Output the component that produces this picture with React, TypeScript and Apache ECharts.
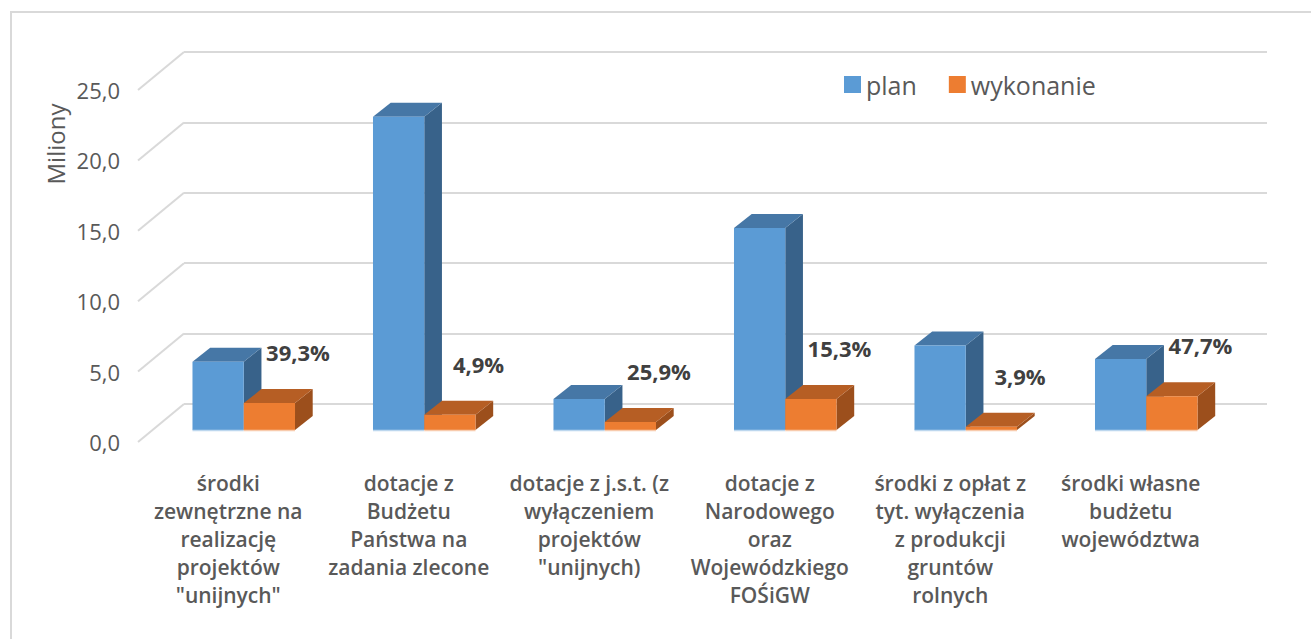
import React, { useEffect, useRef } from "react";
import * as echarts from "echarts";

const categories = [
  "środki\nzewnętrzne na\nrealizację\nprojektów\n\"unijnych\"",
  "dotacje z\nBudżetu\nPaństwa na\nzadania zlecone",
  "dotacje z j.s.t. (z\nwyłączeniem\nprojektów\n\"unijnych)",
  "dotacje z\nNarodowego\noraz\nWojewódzkiego\nFOŚiGW",
  "środki z opłat z\ntyt. wyłączenia\nz produkcji\ngruntów\nrolnych",
  "środki własne\nbudżetu\nwojewództwa",
];
const planValues = [4.85, 22.25, 2.2, 14.35, 6.0, 5.04];
const wykonanieValues = [1.91, 1.09, 0.57, 2.2, 0.23, 2.4];
const percentLabels = ["39,3%", "4,9%", "25,9%", "15,3%", "3,9%", "47,7%"];
const yTicks = [0, 5, 10, 15, 20, 25];
const seriesNames = ["plan", "wykonanie"];

// layout / style constants
const FONT = "Open Sans";
const PAIR_SHIFT_X = -30.5;
const FRONT_SHIFT_Y = 26;
const DEPTH_X = 17.7;
const DEPTH_Y = -14;
const BAR_RATIO = 0.284;
const WALL_DX = -46;
const WALL_DY = 38;

const COLORS = {
  plan: { front: "#5B9BD5", top: "#4677A6", side: "#38628A", edge: "#BDD7EE" },
  wyk: { front: "#ED7D31", top: "#B65E24", side: "#9C4F1C", edge: "#F8CBAD" },
};

function makeBarRenderer(kind: "plan" | "wyk") {
  const col = COLORS[kind];
  return (params: any, api: any) => {
    const idx = api.value(0);
    const v = api.value(1);
    const base = api.coord([idx, 0]);
    const topP = api.coord([idx, v]);
    const band = api.size([1, 0])[0];
    const barW = band * BAR_RATIO;
    const center = base[0] + PAIR_SHIFT_X;
    const L = kind === "plan" ? center - barW : center;
    const yb = base[1] + FRONT_SHIFT_Y;
    const yt = topP[1] + FRONT_SHIFT_Y;
    const R = L + barW;
    const children: any[] = [
      {
        type: "polygon",
        shape: {
          points: [
            [R, yt],
            [R + DEPTH_X, yt + DEPTH_Y],
            [R + DEPTH_X, yb + DEPTH_Y],
            [R, yb],
          ],
        },
        style: { fill: col.side },
      },
      {
        type: "polygon",
        shape: {
          points: [
            [L, yt],
            [R, yt],
            [R + DEPTH_X, yt + DEPTH_Y],
            [L + DEPTH_X, yt + DEPTH_Y],
          ],
        },
        style: { fill: col.top },
      },
      {
        type: "rect",
        shape: { x: L, y: yt, width: barW, height: yb - yt },
        style: { fill: col.front },
      },
      {
        type: "line",
        shape: { x1: L, y1: yb + 0.5, x2: R, y2: yb + 0.5 },
        style: { stroke: col.edge, lineWidth: 1.5 },
      },
    ];
    if (kind === "wyk") {
      children.push({
        type: "text",
        style: {
          text: percentLabels[params.dataIndex],
          x: R + 3,
          y: yt - 51,
          align: "center",
          verticalAlign: "middle",
          fontFamily: FONT,
          fontSize: 22,
          fontWeight: "bold",
          fill: "#404040",
        },
      });
    }
    return { type: "group", children };
  };
}

export default function App() {
  const ref = useRef<HTMLDivElement>(null);
  useEffect(() => {
    document.body.style.margin = "0";
    if (!ref.current) return;
    const chart = echarts.init(ref.current, null, { renderer: "svg" });
    const fmt = (v: number) => v.toFixed(1).replace(".", ",");
    chart.setOption({
      animation: false,
      backgroundColor: "#ffffff",
      graphic: [
        {
          type: "rect",
          shape: { x: 11, y: 12, width: 1400, height: 700 },
          style: { fill: "none", stroke: "#D9D9D9", lineWidth: 2 },
          z: 0,
        },
        {
          type: "text",
          x: 55,
          y: 144,
          rotation: Math.PI / 2,
          style: {
            text: "Miliony",
            align: "center",
            verticalAlign: "middle",
            fontFamily: FONT,
            fontSize: 24,
            fill: "#595959",
          },
        },
      ],
      legend: {
        data: seriesNames,
        left: 839,
        top: 67,
        icon: "rect",
        itemWidth: 17,
        itemHeight: 17,
        itemGap: 32,
        textStyle: { fontFamily: FONT, fontSize: 25, color: "#595959" },
      },
      grid: [
        { left: 184, right: 44, top: 52, bottom: 235 },
        { left: 138, right: 90, top: 90, bottom: 197 },
      ],
      xAxis: [
        {
          type: "category",
          gridIndex: 0,
          data: categories,
          axisLine: { show: false },
          axisTick: { show: false },
          axisLabel: { show: false },
        },
        {
          type: "category",
          gridIndex: 1,
          data: categories,
          axisLine: { show: false },
          axisTick: { show: false },
          axisLabel: {
            interval: 0,
            margin: 27,
            fontFamily: FONT,
            fontSize: 21,
            fontWeight: 600,
            color: "#595959",
            lineHeight: 28,
          },
        },
      ],
      yAxis: [
        {
          type: "value",
          gridIndex: 0,
          min: 0,
          max: 25,
          interval: 5,
          axisLabel: { show: false },
          axisLine: { show: false },
          axisTick: { show: false },
          splitLine: { lineStyle: { color: "#D9D9D9", width: 2 } },
        },
        {
          type: "value",
          gridIndex: 1,
          min: 0,
          max: 25,
          interval: 5,
          axisLine: { show: false },
          axisTick: { show: false },
          splitLine: { show: false },
          axisLabel: {
            margin: 18,
            formatter: fmt,
            fontFamily: FONT,
            fontSize: 22,
            color: "#595959",
          },
        },
      ],
      series: [
        {
          type: "custom",
          name: "wall",
          xAxisIndex: 0,
          yAxisIndex: 0,
          silent: true,
          data: yTicks.map((t) => [0, t]),
          renderItem: (params: any, api: any) => {
            const cs = params.coordSys;
            const y = api.coord([0, api.value(1)])[1];
            return {
              type: "line",
              shape: { x1: cs.x, y1: y, x2: cs.x + WALL_DX, y2: y + WALL_DY },
              style: { stroke: "#D9D9D9", lineWidth: 2 },
            };
          },
        },
        {
          type: "custom",
          name: seriesNames[0],
          xAxisIndex: 0,
          yAxisIndex: 0,
          itemStyle: { color: COLORS.plan.front },
          data: planValues.map((v, i) => [i, v]),
          renderItem: makeBarRenderer("plan"),
        },
        {
          type: "custom",
          name: seriesNames[1],
          xAxisIndex: 0,
          yAxisIndex: 0,
          itemStyle: { color: COLORS.wyk.front },
          data: wykonanieValues.map((v, i) => [i, v]),
          renderItem: makeBarRenderer("wyk"),
        },
      ],
    });
    return () => chart.dispose();
  }, []);
  return <div ref={ref} style={{ width: 1311, height: 639 }} />;
}
